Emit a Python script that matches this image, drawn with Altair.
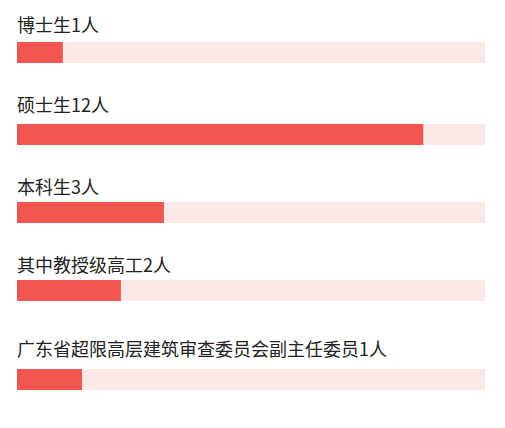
import altair as alt
import pandas as pd

labels = ["博士生1人", "硕士生12人", "本科生3人", "其中教授级高工2人", "广东省超限高层建筑审查委员会副主任委员1人"]
values = [9.8, 86.8, 31.4, 22.2, 13.9]
track_max = [100, 100, 100, 100, 100]

RED = "#f25650"
TRACK = "#fde8e8"
FONT = "Noto Sans CJK SC"
offsets = [6, 8, 4, 4, 9]


def row(i):
    df = pd.DataFrame({"label": [labels[i]], "value": [values[i]], "full": [track_max[i]]})
    base = alt.Chart(df)
    y = alt.Y("label:N", axis=None, scale=alt.Scale(paddingInner=0, paddingOuter=0))
    track = base.mark_bar(color=TRACK).encode(
        x=alt.X("full:Q", scale=alt.Scale(domain=[0, 100]), axis=None), y=y
    )
    bar = base.mark_bar(color=RED).encode(
        x=alt.X("value:Q", scale=alt.Scale(domain=[0, 100]), axis=None), y=y
    )
    return alt.layer(track, bar).properties(
        width=468,
        height=21,
        title=alt.TitleParams(
            text=labels[i], anchor="start", fontSize=18, fontWeight="normal",
            font=FONT, color="#222222", offset=offsets[i],
        ),
    )


rows = [row(i) for i in range(5)]
chart = alt.vconcat(
    alt.vconcat(*rows[:4], spacing=35),
    rows[4],
    spacing=41,
).properties(
    padding={"left": 9, "top": 10, "right": 5, "bottom": 5},
    background="white",
).configure_view(stroke=None)

chart.save("out.html", embed_options={"renderer": "svg", "actions": False})
